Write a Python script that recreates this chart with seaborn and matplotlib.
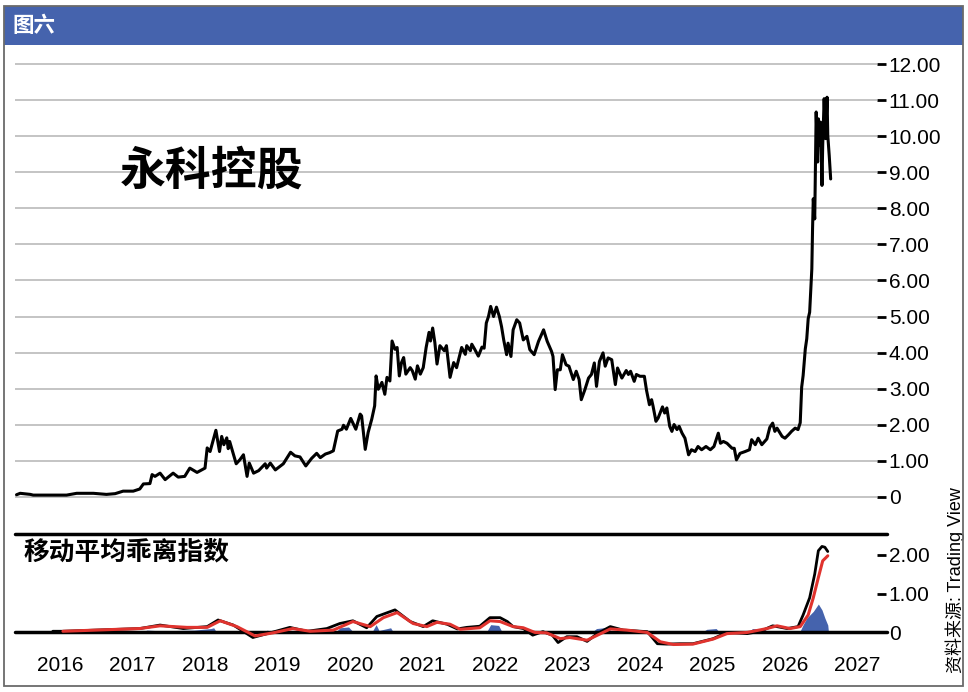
import matplotlib
matplotlib.use("Agg")
import matplotlib.pyplot as plt
from matplotlib.patches import Rectangle
from matplotlib.lines import Line2D
import pandas as pd
import seaborn as sns

# price (decimal year, price)
price_t = [2015.40, 2015.45, 2015.59, 2015.63, 2016.09, 2016.23, 2016.46, 2016.64, 2016.76, 2016.87,
           2017.01, 2017.10, 2017.15, 2017.24, 2017.27, 2017.31, 2017.38, 2017.45, 2017.56, 2017.63,
           2017.72, 2017.79, 2017.89, 2018.00, 2018.03, 2018.07, 2018.15, 2018.20, 2018.23, 2018.26,
           2018.30, 2018.32, 2018.34, 2018.43, 2018.48, 2018.53, 2018.58, 2018.61, 2018.67, 2018.74,
           2018.83, 2018.85, 2018.90, 2018.97, 2019.08, 2019.18, 2019.24, 2019.31, 2019.39, 2019.47,
           2019.54, 2019.59, 2019.66, 2019.72, 2019.77, 2019.83, 2019.89, 2019.91, 2019.95, 2020.01,
           2020.08, 2020.14, 2020.16, 2020.21, 2020.25, 2020.30, 2020.34, 2020.36, 2020.39, 2020.44,
           2020.48, 2020.51, 2020.55, 2020.58, 2020.62, 2020.65, 2020.68, 2020.71, 2020.74, 2020.77,
           2020.83, 2020.86, 2020.90, 2020.93, 2020.97, 2021.01, 2021.05, 2021.09, 2021.11, 2021.14,
           2021.17, 2021.20, 2021.24, 2021.30, 2021.33, 2021.38, 2021.43, 2021.47, 2021.54, 2021.59,
           2021.61, 2021.66, 2021.68, 2021.72, 2021.77, 2021.82, 2021.85, 2021.88, 2021.91, 2021.94,
           2021.98, 2022.02, 2022.06, 2022.09, 2022.12, 2022.16, 2022.18, 2022.22, 2022.25, 2022.30,
           2022.34, 2022.39, 2022.44, 2022.48, 2022.54, 2022.60, 2022.67, 2022.72, 2022.78, 2022.80,
           2022.83, 2022.86, 2022.90, 2022.93, 2022.98, 2023.02, 2023.08, 2023.12, 2023.16, 2023.19,
           2023.24, 2023.29, 2023.33, 2023.37, 2023.40, 2023.44, 2023.49, 2023.52, 2023.56, 2023.61,
           2023.66, 2023.69, 2023.75, 2023.81, 2023.84, 2023.87, 2023.92, 2023.95, 2024.00, 2024.06,
           2024.09, 2024.13, 2024.16, 2024.18, 2024.22, 2024.25, 2024.31, 2024.34, 2024.37, 2024.41,
           2024.44, 2024.47, 2024.51, 2024.54, 2024.58, 2024.62, 2024.67, 2024.71, 2024.76, 2024.80,
           2024.85, 2024.91, 2024.97, 2025.02, 2025.08, 2025.11, 2025.15, 2025.20, 2025.27, 2025.30,
           2025.33, 2025.38, 2025.45, 2025.51, 2025.54, 2025.59, 2025.63, 2025.68, 2025.75, 2025.79,
           2025.83, 2025.86, 2025.89, 2025.96, 2026.00, 2026.05, 2026.09, 2026.14, 2026.18, 2026.21,
           2026.23, 2026.25, 2026.28, 2026.30, 2026.32, 2026.34, 2026.37, 2026.38, 2026.39, 2026.41,
           2026.43, 2026.45, 2026.46, 2026.47, 2026.49, 2026.51, 2026.52, 2026.54, 2026.56, 2026.58,
           2026.59, 2026.61, 2026.63]
price_v = [0.05, 0.09, 0.06, 0.04, 0.04, 0.09, 0.09, 0.06, 0.08, 0.15,
           0.15, 0.21, 0.35, 0.36, 0.61, 0.56, 0.65, 0.47, 0.65, 0.54,
           0.56, 0.79, 0.67, 0.79, 1.35, 1.25, 1.84, 1.25, 1.67, 1.44,
           1.63, 1.33, 1.53, 0.91, 1.02, 1.16, 0.56, 0.93, 0.65, 0.72,
           0.91, 0.79, 0.93, 0.74, 0.91, 1.23, 1.13, 1.10, 0.85, 1.06,
           1.20, 1.08, 1.18, 1.22, 1.27, 1.82, 1.87, 1.98, 1.87, 2.17,
           1.87, 2.29, 2.24, 1.31, 1.78, 2.15, 2.52, 3.35, 2.98, 3.17,
           2.84, 3.31, 3.21, 4.32, 4.09, 4.14, 3.35, 3.72, 3.86, 3.40,
           3.58, 3.49, 3.26, 3.63, 3.40, 3.58, 4.14, 4.56, 4.32, 4.68,
           4.28, 3.68, 4.19, 4.05, 4.19, 3.31, 3.72, 3.58, 4.14, 3.95,
           4.19, 4.05, 4.23, 4.09, 3.90, 4.15, 4.12, 4.82, 5.00, 5.28,
           5.00, 5.26, 5.00, 4.72, 4.35, 3.94, 4.26, 3.89, 4.63, 4.91,
           4.82, 4.35, 4.45, 4.08, 3.94, 4.31, 4.63, 4.31, 4.03, 3.89,
           2.97, 3.52, 3.52, 3.94, 3.66, 3.62, 3.25, 3.48, 3.25, 2.69,
           2.97, 3.29, 3.39, 3.71, 3.06, 3.75, 3.99, 3.62, 3.85, 3.80,
           3.11, 3.57, 3.29, 3.50, 3.39, 3.48, 3.20, 3.39, 3.34, 3.34,
           2.95, 2.55, 2.69, 2.51, 2.09, 2.18, 2.49, 2.32, 2.46, 1.95,
           1.81, 2.00, 1.86, 1.95, 1.76, 1.62, 1.16, 1.30, 1.25, 1.39,
           1.30, 1.39, 1.30, 1.39, 1.76, 1.48, 1.53, 1.48, 1.34, 1.34,
           1.02, 1.20, 1.25, 1.30, 1.58, 1.44, 1.62, 1.44, 1.60, 1.92,
           2.04, 1.81, 1.90, 1.67, 1.62, 1.72, 1.81, 1.90, 1.86, 2.05,
           3.04, 3.36, 4.10, 4.38, 4.94, 5.12, 6.32, 7.43, 8.27, 7.71,
           10.68, 9.29, 10.49, 9.75, 10.40, 8.64, 9.75, 11.05, 9.94, 11.09,
           10.03, 9.47, 8.82]

# moving-average deviation (black)
dev_t = [2015.90, 2016.04, 2017.10, 2017.38, 2017.70, 2018.03, 2018.18, 2018.39, 2018.66, 2018.86,
         2019.17, 2019.41, 2019.68, 2019.86, 2020.04, 2020.23, 2020.37, 2020.62, 2020.83, 2021.01,
         2021.14, 2021.34, 2021.48, 2021.61, 2021.79, 2021.93, 2022.07, 2022.17, 2022.25, 2022.39,
         2022.52, 2022.66, 2022.79, 2022.87, 2022.99, 2023.13, 2023.27, 2023.41, 2023.59, 2023.77,
         2024.10, 2024.24, 2024.37, 2024.55, 2024.73, 2025.01, 2025.20, 2025.48, 2025.66, 2025.83,
         2026.03, 2026.18, 2026.25, 2026.34, 2026.41, 2026.46, 2026.51, 2026.55, 2026.59]
dev_v = [0.03, 0.03, 0.10, 0.19, 0.10, 0.15, 0.32, 0.19, -0.13, -0.03,
         0.13, 0.03, 0.10, 0.23, 0.30, 0.12, 0.41, 0.58, 0.28, 0.15,
         0.30, 0.21, 0.09, 0.13, 0.16, 0.38, 0.38, 0.28, 0.15, 0.10,
         -0.07, 0.02, -0.07, -0.26, -0.11, -0.11, -0.23, -0.03, 0.15, 0.06,
         0.02, -0.29, -0.30, -0.29, -0.29, -0.16, 0.00, -0.03, 0.03, 0.17,
         0.10, 0.15, 0.45, 0.89, 1.50, 2.10, 2.21, 2.19, 2.08]

# signal line (red)
ma_t = [2016.04, 2017.10, 2017.38, 2017.75, 2018.03, 2018.21, 2018.44, 2018.69, 2018.94, 2019.21,
        2019.45, 2019.77, 2020.04, 2020.28, 2020.46, 2020.65, 2020.87, 2021.06, 2021.20, 2021.38,
        2021.52, 2021.79, 2021.93, 2022.07, 2022.25, 2022.39, 2022.55, 2022.71, 2022.90, 2023.03,
        2023.27, 2023.59, 2023.82, 2024.10, 2024.28, 2024.46, 2024.73, 2025.01, 2025.20, 2025.48,
        2025.75, 2025.89, 2026.07, 2026.21, 2026.32, 2026.39, 2026.46, 2026.52, 2026.59]
ma_v = [0.03, 0.10, 0.17, 0.13, 0.13, 0.30, 0.15, -0.09, -0.01, 0.10,
        0.03, 0.06, 0.28, 0.15, 0.38, 0.51, 0.23, 0.15, 0.26, 0.21,
        0.08, 0.12, 0.30, 0.28, 0.15, 0.12, 0.00, -0.01, -0.16, -0.13,
        -0.20, 0.09, 0.06, 0.00, -0.24, -0.31, -0.30, -0.17, -0.03, 0.00,
        0.10, 0.17, 0.10, 0.15, 0.45, 0.89, 1.41, 1.84, 1.97]

# histogram (blue)
osc_t = [2017.10, 2017.20, 2017.40, 2017.60, 2017.85, 2018.08, 2018.12, 2018.16, 2018.80, 2018.86,
         2018.92, 2019.80, 2019.86, 2019.98, 2020.05, 2020.30, 2020.36, 2020.40, 2020.56, 2020.60,
         2021.88, 2021.94, 2022.05, 2022.10, 2022.62, 2022.66, 2022.70, 2023.33, 2023.40, 2023.55,
         2023.62, 2024.85, 2024.92, 2025.05, 2025.10, 2025.50, 2025.55, 2025.72, 2025.76, 2026.20,
         2026.25, 2026.30, 2026.39, 2026.46, 2026.51, 2026.55, 2026.59, 2026.60]
osc_v = [0.00, 0.06, 0.04, 0.05, 0.06, 0.10, 0.12, 0.00, 0.00, 0.06,
         0.00, 0.00, 0.12, 0.14, 0.00, 0.00, 0.20, 0.05, 0.12, 0.00,
         0.00, 0.20, 0.18, 0.00, 0.00, 0.06, 0.00, 0.00, 0.10, 0.13,
         0.00, 0.00, 0.08, 0.10, 0.00, 0.00, 0.10, 0.09, 0.00, 0.00,
         0.20, 0.37, 0.54, 0.73, 0.58, 0.37, 0.19, 0.00]

years = list(range(2016, 2028))
price_ticks = list(range(0, 13))
price_labels = ["0"] + [f"{v}.00" for v in range(1, 13)]
dev_ticks = [0, 1, 2]
dev_labels = ["0", "1.00", "2.00"]

W, H = 968, 692
BLUE = "#4563ad"
RED = "#e0332e"

sns.set_theme(style="white")
plt.rcParams['font.family'] = ['Liberation Sans', 'Noto Sans CJK SC', 'DejaVu Sans']
CJK = ['Noto Sans CJK SC', 'Liberation Sans']

fig = plt.figure(figsize=(W / 100, H / 100), dpi=100)
fig.patch.set_facecolor("white")


def frect(x0, y0, x1, y1):
    # pixel box (top-left origin) -> figure fraction rect
    return [x0 / W, 1 - y1 / H, (x1 - x0) / W, (y1 - y0) / H]


xlim = (2015.379, 2027.269)

# main price panel
ax = fig.add_axes(frect(15, 45, 877, 534))
df_price = pd.DataFrame({"t": price_t, "price": price_v})
sns.lineplot(data=df_price, x="t", y="price", ax=ax, color="black", lw=2.2,
             estimator=None, sort=False)
ax.set_xlim(*xlim)
ax.set_ylim(-1.04, 12.54)
ax.set_yticks(price_ticks)
ax.set_yticklabels(price_labels)
ax.yaxis.tick_right()
ax.tick_params(axis="y", right=True, length=6.5, width=2, color="black", pad=2,
               labelsize=15, labelcolor="black")
ax.set_xticks([])
ax.grid(axis="y", color="#b4b4b4", lw=1.1)
ax.set_xlabel("")
ax.set_ylabel("")
for s in ax.spines.values():
    s.set_visible(False)
ax.text(0.228, 0.742, "永科控股", transform=ax.transAxes, fontsize=33,
        fontweight="bold", family=CJK, ha="center", va="center", color="black")

# oscillator panel
ax2 = fig.add_axes(frect(15, 534, 877, 648))
ax2.fill_between(osc_t, 0, osc_v, color=BLUE, lw=0)
sns.lineplot(x=dev_t, y=dev_v, ax=ax2, color="black", lw=2.0, estimator=None, sort=False)
sns.lineplot(x=ma_t, y=ma_v, ax=ax2, color=RED, lw=2.2, estimator=None, sort=False)
ax2.plot([0, 1.012], [0, 0], transform=ax2.get_yaxis_transform(), color="black",
         lw=2.5, clip_on=False, zorder=1)
ax2.set_xlim(*xlim)
ax2.set_ylim(-0.40, 2.53)
ax2.set_yticks(dev_ticks)
ax2.set_yticklabels(dev_labels)
ax2.yaxis.tick_right()
ax2.tick_params(axis="y", right=True, length=6.5, width=2, color="black", pad=2,
                labelsize=15, labelcolor="black")
ax2.set_xticks(years)
ax2.set_xticklabels([str(y) for y in years])
ax2.tick_params(axis="x", length=0, pad=6, labelsize=15, labelcolor="black")
ax2.grid(False)
ax2.set_xlabel("")
ax2.set_ylabel("")
for s in ax2.spines.values():
    s.set_visible(False)
ax2.text(0.01, 0.84, "移动平均乖离指数", transform=ax2.transAxes, fontsize=18.5,
         fontweight="bold", family=CJK, ha="left", va="center", color="black")

# divider line between panels
fig.add_artist(Line2D([15 / W, 887 / W], [1 - 534 / H, 1 - 534 / H], color="black", lw=2.5))

# header bar and frame
fig.add_artist(Rectangle((4 / W, 1 - 45 / H), 959 / W, 39 / H, transform=fig.transFigure,
                         facecolor=BLUE, edgecolor="none", zorder=0))
fig.add_artist(Rectangle((4 / W, 1 - 686 / H), 959 / W, 680 / H, transform=fig.transFigure,
                         facecolor="none", edgecolor="#6a6a6a", lw=1.3, zorder=5))
fig.text(12 / W, 1 - 26 / H, "图六", fontsize=15.5, fontweight="bold", family=CJK,
         color="white", ha="left", va="center")

# source note
fig.text(955 / W, 1 - 580 / H, "资料来源: Trading View", rotation=90, fontsize=13,
         family=['Liberation Sans', 'Noto Sans CJK SC'], ha="center", va="center",
         color="black")

fig.savefig("out.png", dpi=100, facecolor="white")
